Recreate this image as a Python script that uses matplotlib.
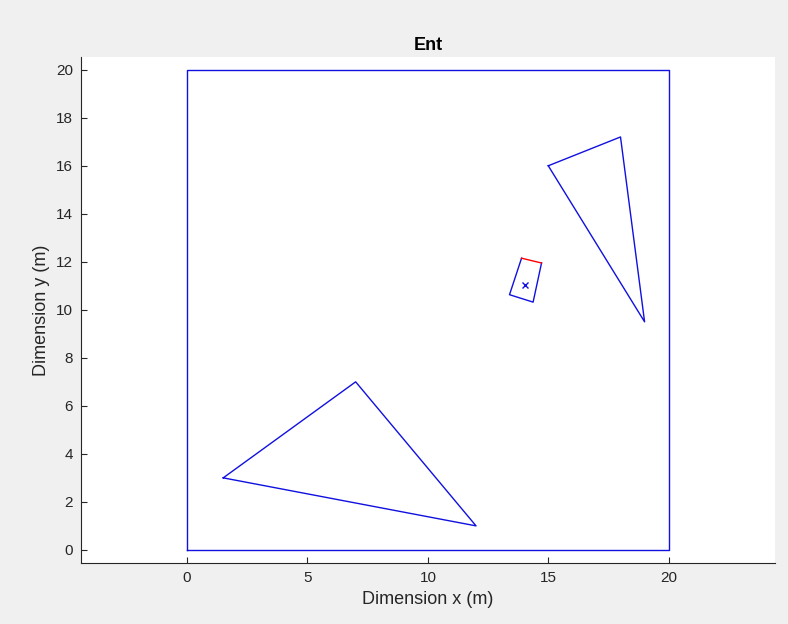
import matplotlib
matplotlib.use("Agg")
import matplotlib.pyplot as plt

# Data
boundary_x = [0, 20, 20, 0, 0]
boundary_y = [0, 0, 20, 20, 0]
obst1_x = [1.5, 7, 12, 1.5]
obst1_y = [3, 7, 1, 3]
obst2_x = [15, 18, 19, 15]
obst2_y = [16, 17.2, 9.5, 16]
robot_body_x = [14.72, 14.37, 13.39, 13.89]
robot_body_y = [11.95, 10.32, 10.63, 12.15]
robot_front_x = [13.89, 14.72]
robot_front_y = [12.15, 11.95]
robot_pos_x = [14.02]
robot_pos_y = [11.04]
xticks = [0, 5, 10, 15, 20]
yticks = [0, 2, 4, 6, 8, 10, 12, 14, 16, 18, 20]

plt.rcParams['font.family'] = ['Liberation Sans', 'DejaVu Sans']
fig = plt.figure(figsize=(7.88, 6.24), dpi=100, facecolor='#f0f0f0')
ax = fig.add_axes([0.103, 0.098, 0.880, 0.811])
ax.set_facecolor('white')

lc = '#1010e0'
ax.plot(boundary_x, boundary_y, color=lc, lw=1.0)
ax.plot(obst1_x, obst1_y, color=lc, lw=1.0)
ax.plot(obst2_x, obst2_y, color=lc, lw=1.0)
ax.plot(robot_body_x, robot_body_y, color=lc, lw=1.0)
ax.plot(robot_front_x, robot_front_y, color='red', lw=1.0)
ax.plot(robot_pos_x, robot_pos_y, 'x', color=lc, ms=5, mew=1.0)

ax.set_xlim(-4.4, 24.4)
ax.set_ylim(-0.54, 20.54)
ax.set_xticks(xticks)
ax.set_yticks(yticks)
ax.spines['top'].set_visible(False)
ax.spines['right'].set_visible(False)
for s in ['left', 'bottom']:
    ax.spines[s].set_color('#262626')
    ax.spines[s].set_linewidth(0.8)
ax.tick_params(direction='in', length=4, width=0.8, colors='#262626', labelsize=11)
ax.tick_params(axis='x', pad=6)
ax.tick_params(axis='y', pad=6)
ax.set_xlabel('Dimension x (m)', fontsize=13, color='#262626', labelpad=4)
ax.set_ylabel('Dimension y (m)', fontsize=13, color='#262626', labelpad=4)
ax.set_title('Ent', fontsize=13, fontweight='bold', color='black', pad=5)

fig.savefig('out.png', dpi=100, facecolor=fig.get_facecolor())
